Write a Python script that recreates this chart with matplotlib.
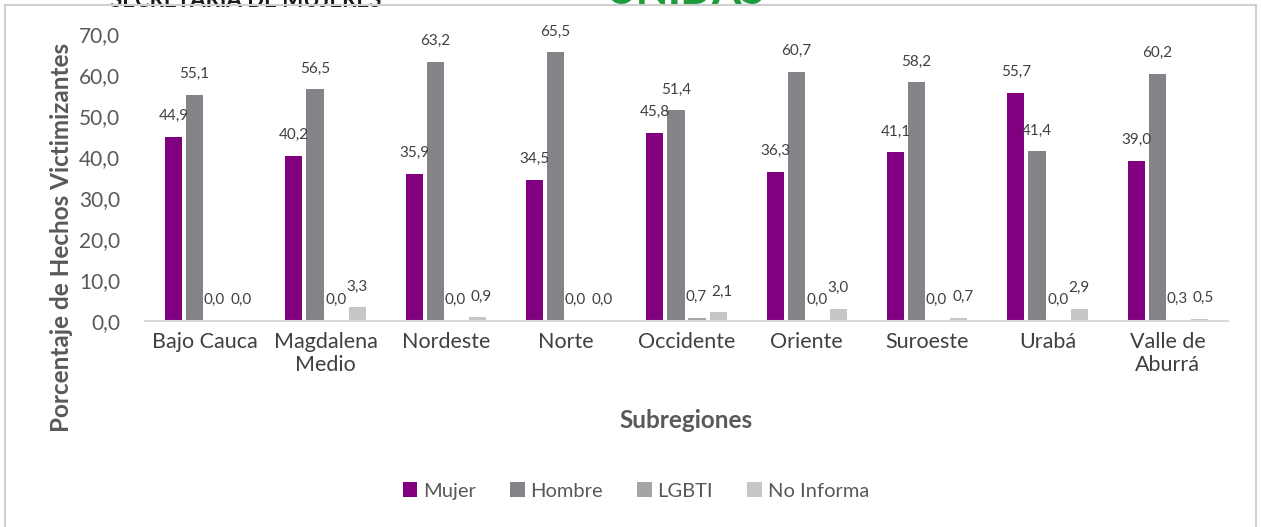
import matplotlib
matplotlib.use("Agg")
import matplotlib.pyplot as plt
from matplotlib.patches import Rectangle
import numpy as np

categories = ["Bajo Cauca", "Magdalena\nMedio", "Nordeste", "Norte", "Occidente",
              "Oriente", "Suroeste", "Urabá", "Valle de\nAburrá"]
series_names = ["Mujer", "Hombre", "LGBTI", "No Informa"]
mujer = [44.9, 40.2, 35.9, 34.5, 45.8, 36.3, 41.1, 55.7, 39.0]
hombre = [55.1, 56.5, 63.2, 65.5, 51.4, 60.7, 58.2, 41.4, 60.2]
lgbti = [0.0, 0.0, 0.0, 0.0, 0.7, 0.0, 0.0, 0.0, 0.3]
no_informa = [0.0, 3.3, 0.9, 0.0, 2.1, 3.0, 0.7, 2.9, 0.5]
yticks = [0, 10, 20, 30, 40, 50, 60, 70]

colors = ["#800080", "#848388", "#A5A5A5", "#C6C6C6"]
font = ["Lato", "DejaVu Sans"]
plt.rcParams['font.family'] = font

W, H = 1261, 527
fig = plt.figure(figsize=(W / 100, H / 100), dpi=100)

# outer frame
fig.add_artist(Rectangle((5 / W, -0.1), (1256 - 5) / W, 1.1 - 5 / H,
                         transform=fig.transFigure, fill=False,
                         edgecolor="#D0D0D0", linewidth=1.5, zorder=5))
# header (cropped at the top edge, as in the reference)
fig.text(110 / W, 1 - 7 / H, "SECRETARÍA DE MUJERES", fontsize=16, fontweight="bold",
         color="#1a1a1a", va="baseline", ha="left")
fig.text(605 / W, 1 - 4 / H, "UNIDAS", fontsize=30, fontweight="black",
         color="#1E9B3A", va="baseline", ha="left")

ax = fig.add_axes([145 / W, 1 - 321 / H, (1228 - 145) / W, (321 - 34) / H])
x = np.arange(len(categories))
step = 0.175
bw = 0.142
all_series = [mujer, hombre, lgbti, no_informa]
for i, (vals, name, c) in enumerate(zip(all_series, series_names, colors)):
    pos = x + (i - 1.5) * step
    ax.bar(pos, vals, width=bw, color=c, label=name, zorder=2)
    for j, (px, v) in enumerate(zip(pos, vals)):
        dx = 0
        if i == 3 and abs(v - lgbti[j]) < 1.5:
            dx = 3  # nudge apart labels that would collide
        if i == 2 and abs(v - no_informa[j]) < 1.5:
            dx = -1
        ax.annotate(f"{v:.1f}".replace(".", ","), (px, v), xytext=(dx, 15),
                    textcoords="offset points", ha="center", va="center",
                    fontsize=11, color="#404040")

ax.set_xlim(-0.5, len(categories) - 0.5)
ax.set_ylim(0, 70)
ax.set_yticks(yticks)
ax.set_yticklabels([f"{t:.1f}".replace(".", ",") for t in yticks], fontsize=15, color="#595959")
ax.set_xticks(x)
ax.set_xticklabels(categories, fontsize=15.5, color="#404040", linespacing=1.15)
for s in ["top", "right", "left"]:
    ax.spines[s].set_visible(False)
ax.spines["bottom"].set_color("#D9D9D9")
ax.spines["bottom"].set_linewidth(1.5)
ax.tick_params(axis="both", length=0)
ax.tick_params(axis="y", pad=18)
ax.tick_params(axis="x", pad=8)

fig.text(62 / W, 1 - 237 / H, "Porcentaje de Hechos Victimizantes", rotation=90,
         fontsize=17.5, fontweight="bold", color="#595959", ha="center", va="center")
fig.text(686 / W, 1 - 421 / H, "Subregiones", fontsize=17.5, fontweight="bold",
         color="#595959", ha="center", va="center")

fig.legend(loc="center", bbox_to_anchor=(636 / W, 1 - 491 / H), ncol=4, frameon=False,
           fontsize=14.5, handlelength=0.7, handleheight=0.7, handletextpad=0.3,
           columnspacing=1.7, labelcolor="#595959")

fig.savefig("out.png", dpi=100)
